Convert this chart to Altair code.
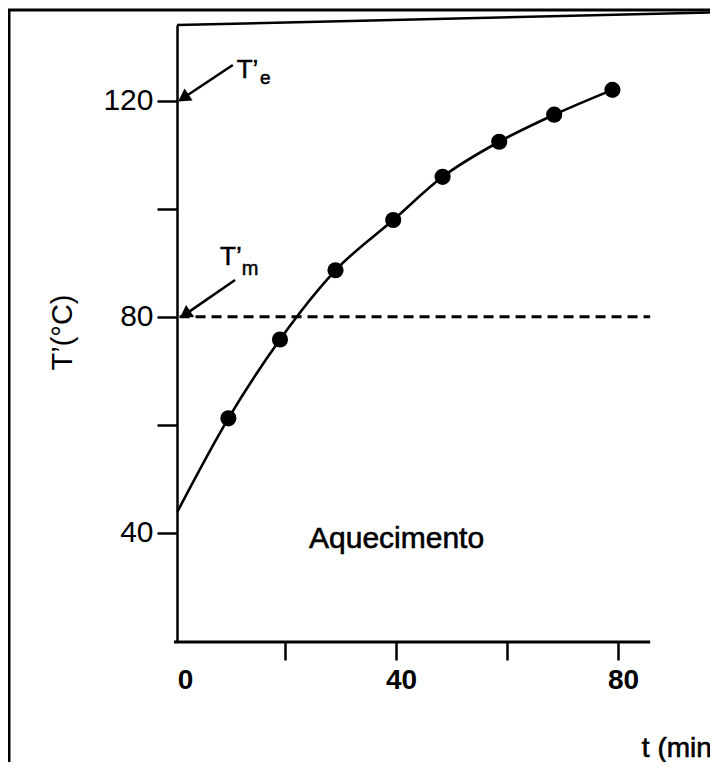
import math
import altair as alt
import pandas as pd

# ---------------- data ----------------
t_obs = [9.8, 19.1, 29.1, 39.5, 48.4, 58.6, 68.5, 79.0]          # t (min)
T_obs = [61.2, 75.8, 88.6, 97.9, 105.9, 112.4, 117.4, 122.0]     # T' (°C)
t_start = 0.6
T_start = 43.9                                                   # curve start on the axis
T_m = 80.0                                                       # dashed level T'm
dash_t = [1.0, 85.8]
x_ticks = [0, 20, 40, 60, 80]
y_ticks = [40, 60, 80, 100, 120]
x_axis_end = 85.8

# annotation arrows: tail -> tip (data units)
arrow_id = ["e", "m"]
arrow_tail_t = [10.6, 11.0]
arrow_tail_T = [126.6, 86.8]
arrow_tip_t = [1.1, 1.4]
arrow_tip_T = [120.1, 80.0]

# labels
lab_text = ["T\u2019", "e", "T\u2019", "m"]
lab_t = [11.3, 15.5, 8.3, 12.2]
lab_T = [124.2, 123.0, 89.6, 87.7]
lab_size = [26, 19, 26, 20]

region_text = ["Aquecimento"]
region_t = [40.1]
region_T = [37.2]

xtitle_text = ["t (min)"]
xtitle_t = [84.3]
xtitle_T = [-1.5]

# ---------------- layout ----------------
W, H = 536, 617
X_DOMAIN = [0, 96.58]
Y_DOMAIN = [19.8, 134.0]
FONT = "Liberation Sans"
KX = W / (X_DOMAIN[1] - X_DOMAIN[0])
KY = H / (Y_DOMAIN[1] - Y_DOMAIN[0])

xs = alt.Scale(domain=X_DOMAIN, nice=False, zero=False)
ys = alt.Scale(domain=Y_DOMAIN, nice=False, zero=False)

x_axis = alt.Axis(
    values=x_ticks,
    labelExpr="datum.value % 40 == 0 ? datum.label : ''",
    domain=False, grid=False,
    tickSize=18, tickWidth=2.5, tickColor="black",
    tickOpacity={"condition": {"test": "datum.value == 0", "value": 0}, "value": 1},
    labelFont=FONT, labelFontSize=28, labelFontWeight="bold", labelColor="black", labelPadding=6,
    labelOffset={"condition": {"test": "datum.value == 0", "value": 11}, "value": 5},
    labelFlush=False, labelOverlap=False, title=None,
)
y_axis = alt.Axis(
    values=y_ticks,
    labelExpr="datum.value % 40 == 0 ? datum.label : ''",
    domain=True, domainColor="black", domainWidth=2.5, grid=False,
    tickSize=20, tickWidth=2.5, tickColor="black",
    labelFont=FONT, labelFontSize=30, labelColor="black", labelPadding=4,
    labelOverlap=False, offset=-3,
    title="T\u2019(\u00b0C)", titleFont=FONT, titleFontSize=29, titleFontWeight="normal",
    titleColor="black", titleAngle=270, titleX=-115, titleY=307,
    titleAlign="center", titleBaseline="middle",
)

curve = pd.DataFrame({"t": [t_start] + t_obs, "T": [T_start] + T_obs})
pts = pd.DataFrame({"t": t_obs, "T": T_obs})
dash = pd.DataFrame({"t": dash_t, "T": [T_m, T_m]})

base_x = alt.X("t:Q", scale=xs, axis=x_axis)
base_y = alt.Y("T:Q", scale=ys, axis=y_axis)

line = alt.Chart(curve).mark_line(color="black", strokeWidth=2.6, interpolate="monotone").encode(
    x=base_x, y=base_y)
dots = alt.Chart(pts).mark_circle(color="black", size=260, opacity=1).encode(
    x=alt.X("t:Q", scale=xs), y=alt.Y("T:Q", scale=ys))
dashed = alt.Chart(dash).mark_line(color="black", strokeWidth=3, strokeDash=[10, 6]).encode(
    x=alt.X("t:Q", scale=xs), y=alt.Y("T:Q", scale=ys))

# arrows
arrow_rows = []
head_rows = []
BACK = 6.0
for i, a in enumerate(arrow_id):
    dxp = (arrow_tip_t[i] - arrow_tail_t[i]) * KX
    dyp = -(arrow_tip_T[i] - arrow_tail_T[i]) * KY
    L = math.hypot(dxp, dyp)
    ux, uy = dxp / L, dyp / L
    ht = arrow_tip_t[i] - BACK * ux / KX
    hT = arrow_tip_T[i] + BACK * uy / KY
    ang = math.degrees(math.atan2(dxp, -dyp)) % 360
    arrow_rows.append({"id": a, "t": arrow_tail_t[i], "T": arrow_tail_T[i], "o": 0})
    arrow_rows.append({"id": a, "t": ht, "T": hT, "o": 1})
    head_rows.append({"id": a, "t": ht, "T": hT, "ang": ang})
arrows_df = pd.DataFrame(arrow_rows)
heads_df = pd.DataFrame(head_rows)

arrow_lines = alt.Chart(arrows_df).mark_line(color="black", strokeWidth=2.6).encode(
    x=alt.X("t:Q", scale=xs), y=alt.Y("T:Q", scale=ys), detail="id:N", order="o:Q")
arrow_heads = alt.Chart(heads_df).mark_point(shape="triangle", filled=True, color="black",
                                             size=210, opacity=1).encode(
    x=alt.X("t:Q", scale=xs), y=alt.Y("T:Q", scale=ys), angle=alt.Angle("ang:Q", scale=None))

labels_df = pd.DataFrame({"t": lab_t, "T": lab_T, "txt": lab_text, "fs": lab_size})
labels = alt.Chart(labels_df).mark_text(font=FONT, color="black", align="left",
                                        baseline="alphabetic", stroke="black",
                                        strokeWidth=0.5).encode(
    x=alt.X("t:Q", scale=xs), y=alt.Y("T:Q", scale=ys), text="txt:N",
    size=alt.Size("fs:Q", scale=None))

region = alt.Chart(pd.DataFrame({"t": region_t, "T": region_T, "txt": region_text})).mark_text(
    font=FONT, fontSize=30, color="black", align="center", baseline="alphabetic",
    stroke="black", strokeWidth=0.6).encode(
    x=alt.X("t:Q", scale=xs), y=alt.Y("T:Q", scale=ys), text="txt:N")

xtitle = alt.Chart(pd.DataFrame({"t": xtitle_t, "T": xtitle_T, "txt": xtitle_text})).mark_text(
    font=FONT, fontSize=28, color="black", align="left", baseline="alphabetic",
    stroke="black", strokeWidth=0.6).encode(
    x=alt.X("t:Q", scale=xs), y=alt.Y("T:Q", scale=ys), text="txt:N")

# frame lines
dummy = pd.DataFrame({"a": [0]})
xaxis_df = pd.DataFrame({"t0": [0.0], "t1": [x_axis_end]})
bottom_axis = alt.Chart(xaxis_df).mark_rule(color="black", strokeWidth=2.8).encode(
    x=alt.X("t0:Q", scale=xs), x2="t1:Q", y=alt.value(H))
top_frame = alt.Chart(dummy).mark_rule(color="black", strokeWidth=2.5).encode(
    x=alt.value(3), y=alt.value(0), x2=alt.value(W + 20), y2=alt.value(-13))
outer_left = alt.Chart(dummy).mark_rule(color="black", strokeWidth=3).encode(
    x=alt.value(-165), y=alt.value(-16), y2=alt.value(H + 200))
outer_top = alt.Chart(dummy).mark_rule(color="black", strokeWidth=3).encode(
    x=alt.value(-166), x2=alt.value(W + 20), y=alt.value(-15))

chart = alt.layer(
    line, dashed, dots, arrow_lines, arrow_heads, labels, region, xtitle,
    bottom_axis, top_frame, outer_left, outer_top,
).properties(
    width=W, height=H,
    autosize=alt.AutoSizeParams(type="none"),
    padding={"left": 166, "top": 17, "right": 0, "bottom": 120},
    background="white",
).configure_view(stroke=None)

chart.save("out.html", embed_options={"renderer": "svg", "actions": False})
